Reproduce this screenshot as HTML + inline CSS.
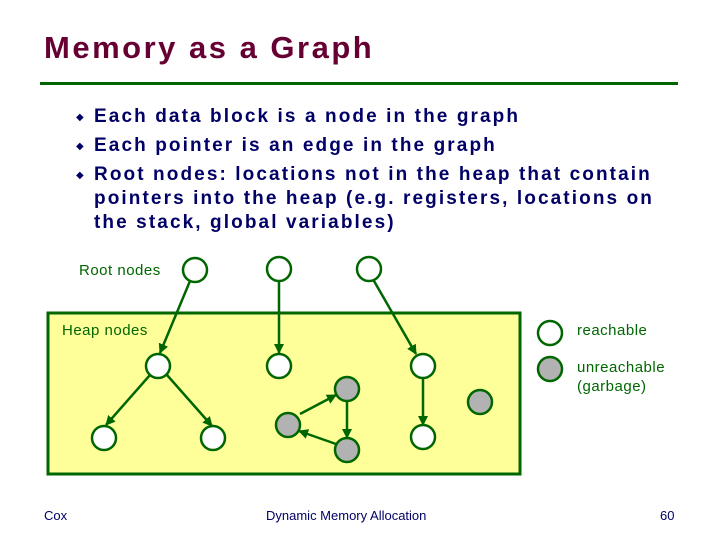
<!DOCTYPE html>
<html><head><style>
body{margin:0;width:720px;height:540px;background:#fff;position:relative;overflow:hidden;font-family:"Liberation Sans",sans-serif}
.t{position:absolute;white-space:nowrap}
.b{color:#000066;font-weight:bold;font-size:19px;letter-spacing:2.1px;left:94px}
.d{position:absolute;left:76px;color:#000066;font-size:10px}
.g{font-size:15px;color:#006600;letter-spacing:0.5px}
</style></head><body>
<div class="t" style="left:44px;top:30px;font-size:31px;font-weight:bold;color:#660033;letter-spacing:2.5px">Memory as a Graph</div>
<div style="position:absolute;left:40px;top:82px;width:638px;height:3px;background:#006600"></div>
<div class="d" style="top:112px">◆</div><div class="t b" style="top:106px">Each data block is a node in the graph</div>
<div class="d" style="top:141px">◆</div><div class="t b" style="top:135px">Each pointer is an edge in the graph</div>
<div class="d" style="top:170px">◆</div><div class="t b" style="top:164px">Root nodes: locations not in the heap that contain</div>
<div class="t b" style="top:188px">pointers into the heap (e.g. registers, locations on</div>
<div class="t b" style="top:212px">the stack, global variables)</div>
<svg width="720" height="540" style="position:absolute;left:0;top:0">
<defs><marker id="a" viewBox="0 0 10 10" refX="9" refY="5" markerWidth="4" markerHeight="4" orient="auto"><path d="M0,0L10,5L0,10z" fill="#006600"/></marker></defs>
<rect x="48" y="313" width="472" height="161" fill="#ffff99" stroke="#006600" stroke-width="3"/>
<g stroke="#006600" stroke-width="2.5" marker-end="url(#a)">
<line x1="190" y1="281" x2="160" y2="353"/>
<line x1="279" y1="281" x2="279" y2="353"/>
<line x1="374" y1="281" x2="416" y2="354"/>
<line x1="150" y1="375" x2="106" y2="425"/>
<line x1="167" y1="375" x2="212" y2="426"/>
<line x1="300" y1="414" x2="336" y2="395"/>
<line x1="347" y1="401" x2="347" y2="438"/>
<line x1="336" y1="444" x2="299" y2="431"/>
<line x1="423" y1="378" x2="423" y2="425"/>
</g>
<g stroke="#006600" stroke-width="2.5" fill="#fff">
<circle cx="195" cy="270" r="12"/><circle cx="279" cy="269" r="12"/><circle cx="369" cy="269" r="12"/>
<circle cx="158" cy="366" r="12"/><circle cx="279" cy="366" r="12"/><circle cx="423" cy="366" r="12"/>
<circle cx="104" cy="438" r="12"/><circle cx="213" cy="438" r="12"/><circle cx="423" cy="437" r="12"/>
<circle cx="550" cy="333" r="12"/>
</g>
<g stroke="#006600" stroke-width="2.5" fill="#b2b2b2">
<circle cx="347" cy="389" r="12"/><circle cx="288" cy="425" r="12"/><circle cx="347" cy="450" r="12"/><circle cx="480" cy="402" r="12"/>
<circle cx="550" cy="369" r="12"/>
</g>
</svg>
<div class="t g" style="left:79px;top:262px">Root nodes</div>
<div class="t g" style="left:62px;top:322px">Heap nodes</div>
<div class="t g" style="left:577px;top:322px">reachable</div>
<div class="t g" style="left:577px;top:358px;line-height:19px">unreachable<br>(garbage)</div>
<div class="t" style="left:44px;top:508px;font-size:13px;color:#000066">Cox</div>
<div class="t" style="left:266px;top:508px;font-size:13px;color:#000066">Dynamic Memory Allocation</div>
<div class="t" style="left:660px;top:508px;font-size:13px;color:#000066">60</div>
</body></html>
